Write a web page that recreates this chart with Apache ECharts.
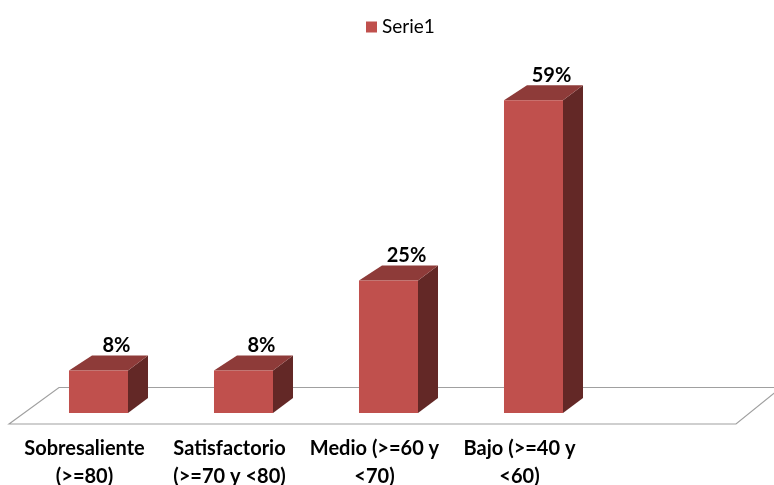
<!DOCTYPE html>
<html>
<head>
<meta charset="utf-8">
<script src="https://cdn.jsdelivr.net/npm/echarts@6/dist/echarts.min.js"></script>
<style>
html,body{margin:0;padding:0;background:#fff;}
#main{width:774px;height:485px;}
</style>
</head>
<body>
<div id="main"></div>
<script>
// ---- data ----
const categories = [
  'Sobresaliente\n(>=80)',
  'Satisfactorio\n(>=70 y <80)',
  'Medio (>=60 y\n<70)',
  'Bajo (>=40 y\n<60)'
];
const seriesName = 'Serie1';
const values = [8, 8, 25, 59];

// ---- style ----
const FONT = 'Lato, "Open Sans", sans-serif';
const FRONT = '#C0504D';
const TOPC = '#8E3B39';
const SIDE = '#632826';
const SHIFT = 14;      // perspective shift of bars vs floor labels
const DX = 20, DY = -15;

const chart = echarts.init(document.getElementById('main'));

const option = {
  animation: false,
  backgroundColor: '#fff',
  legend: {
    data: [seriesName],
    left: 361,
    top: 12,
    icon: 'rect',
    itemWidth: 11,
    itemHeight: 11,
    itemGap: 10,
    textStyle: { fontFamily: FONT, fontSize: 19, color: '#000', lineHeight: 20 }
  },
  grid: { left: 12, width: 580, top: 95, bottom: 72, containLabel: false, outerBoundsMode: 'none' },
  xAxis: {
    type: 'category',
    data: categories,
    axisLine: { show: false },
    axisTick: { show: false },
    axisLabel: {
      interval: 0,
      margin: 22,
      fontFamily: FONT,
      fontSize: 20,
      fontWeight: 'bold',
      color: '#000',
      lineHeight: 28,
      verticalAlign: 'top'
    }
  },
  yAxis: { type: 'value', min: 0, max: 60, show: false, splitLine: { show: false } },
  graphic: [{
    type: 'polygon',
    z: -10,
    shape: { points: [[9, 424], [59, 387.5], [781, 387.5], [736, 424]] },
    style: { fill: 'none', stroke: '#a0a0a0', lineWidth: 1.2 }
  }],
  series: [{
    name: seriesName,
    type: 'custom',
    itemStyle: { color: FRONT },
    data: values.map((v, i) => [i, v]),
    encode: { x: 0, y: 1 },
    renderItem: function (params, api) {
      const i = api.value(0), v = api.value(1);
      const base = api.coord([i, 0]);
      const top = api.coord([i, v]);
      const bandW = api.size([1, 0])[0];
      const w = bandW * 0.407;
      const cx = base[0] + SHIFT;
      const x0 = cx - w / 2, x1 = cx + w / 2;
      const yb = base[1], yt = top[1];
      return {
        type: 'group',
        children: [
          { type: 'polygon', shape: { points: [[x1, yb], [x1 + DX, yb + DY], [x1 + DX, yt + DY], [x1, yt]] }, style: { fill: SIDE } },
          { type: 'polygon', shape: { points: [[x0, yt], [x0 + DX + 3, yt + DY], [x1 + DX, yt + DY], [x1, yt]] }, style: { fill: TOPC } },
          { type: 'rect', shape: { x: x0, y: yt, width: w, height: yb - yt }, style: { fill: FRONT } },
          { type: 'text', style: { text: v + '%', x: cx + 18, y: yt - 25, align: 'center', verticalAlign: 'middle', fontFamily: FONT, fontSize: 20, fontWeight: 'bold', fill: '#000' } }
        ]
      };
    }
  }]
};
chart.setOption(option);
</script>
</body>
</html>
